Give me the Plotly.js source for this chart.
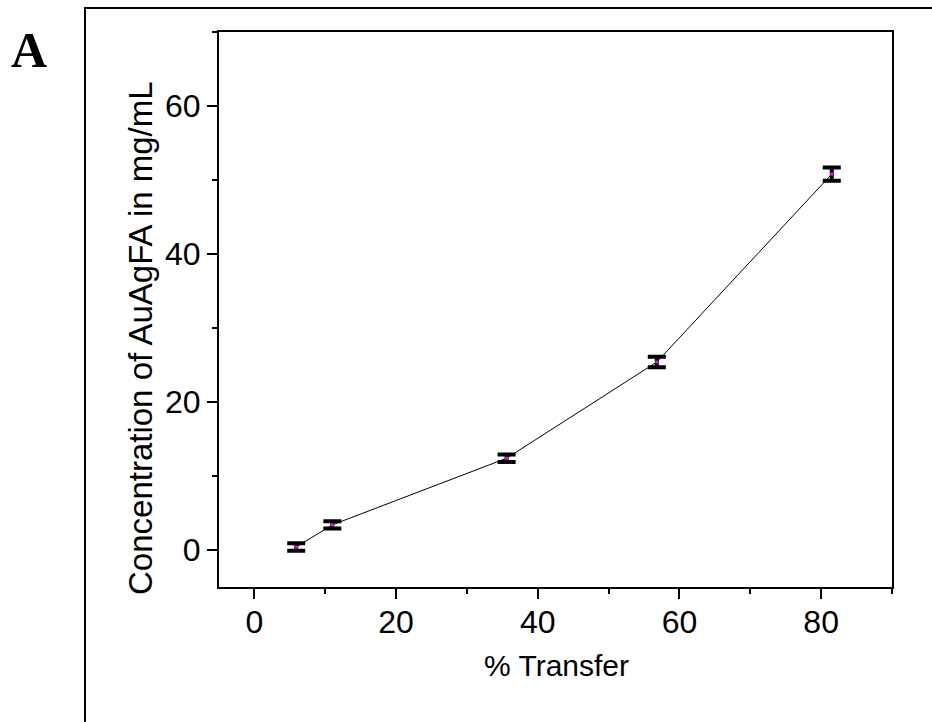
<!DOCTYPE html>
<html>
<head>
<meta charset="utf-8">
<script src="https://cdn.plot.ly/plotly-3.0.1.min.js"></script>
<style>
  html, body { margin: 0; padding: 0; background: #ffffff; }
  #chart { width: 932px; height: 722px; }
</style>
</head>
<body>
<div id="chart"></div>
<script>
// Data
const transferPct = [5.9, 11.0, 35.6, 56.8, 81.5];
const concentration = [0.4, 3.4, 12.4, 25.4, 50.8];
const concError = [0.5, 0.5, 0.5, 0.7, 0.9];
const xTickVals = [0, 20, 40, 60, 80];
const yTickVals = [0, 20, 40, 60];
const panelLabel = 'A';
const xTitle = '% Transfer';
const yTitle = 'Concentration of AuAgFA in mg/mL';

const font = 'Liberation Sans, Arial, sans-serif';

const traces = [
  {
    x: transferPct,
    y: concentration,
    type: 'scatter',
    mode: 'lines+markers',
    line: { color: '#000000', width: 1 },
    marker: { symbol: 'square', size: 3, color: '#ff00ff', line: { width: 0 } },
    error_y: {
      type: 'data',
      array: concError,
      visible: true,
      color: '#000000',
      thickness: 4,
      width: 9
    },
    hoverinfo: 'skip',
    showlegend: false
  }
];

const axisCommon = {
  showgrid: false,
  zeroline: false,
  showline: true,
  linecolor: '#000000',
  linewidth: 2,
  mirror: true,
  ticks: 'outside',
  ticklen: 10,
  tickwidth: 2,
  tickcolor: '#000000',
  tickfont: { family: font, size: 32, color: '#000000' },
  minor: { dtick: 10, ticks: 'outside', ticklen: 5, tickwidth: 2, tickcolor: '#000000' }
};

// plot area in pixels
const L = 219, R = 892, T = 32, B = 587;
const pw = R - L, ph = B - T;
const px = v => (v - L) / pw;
const py = v => (B - v) / ph;

const layout = {
  width: 932,
  height: 722,
  margin: { l: L, r: 932 - R, t: T, b: 722 - B },
  paper_bgcolor: '#ffffff',
  plot_bgcolor: '#ffffff',
  font: { family: font, color: '#000000' },
  xaxis: Object.assign({}, axisCommon, {
    range: [-5, 90],
    tickmode: 'array',
    tickvals: xTickVals,
    ticktext: xTickVals.map(String),
    ticklabelstandoff: -4
  }),
  yaxis: Object.assign({}, axisCommon, {
    range: [-5, 70],
    tickmode: 'array',
    tickvals: yTickVals,
    ticktext: yTickVals.map(String)
  }),
  shapes: [
    {
      type: 'rect', xref: 'paper', yref: 'paper',
      x0: px(85), x1: px(945),
      y0: py(735), y1: py(8),
      line: { color: '#000000', width: 2 },
      fillcolor: 'rgba(0,0,0,0)',
      layer: 'below'
    }
  ],
  annotations: [
    {
      text: '<b>' + panelLabel + '</b>',
      xref: 'paper', yref: 'paper',
      x: px(29), y: py(50),
      xanchor: 'center', yanchor: 'middle',
      showarrow: false,
      font: { family: 'Liberation Serif, Times New Roman, serif', size: 50, color: '#000000' }
    },
    {
      text: xTitle,
      xref: 'paper', yref: 'paper',
      x: px(556), y: py(666),
      xanchor: 'center', yanchor: 'middle',
      showarrow: false,
      font: { family: font, size: 30, color: '#000000' }
    },
    {
      text: yTitle,
      xref: 'paper', yref: 'paper',
      x: px(141), y: py(338),
      xanchor: 'center', yanchor: 'middle',
      textangle: -90,
      showarrow: false,
      font: { family: font, size: 33, color: '#000000' }
    }
  ]
};

Plotly.newPlot('chart', traces, layout, { displayModeBar: false, staticPlot: true });
</script>
</body>
</html>
